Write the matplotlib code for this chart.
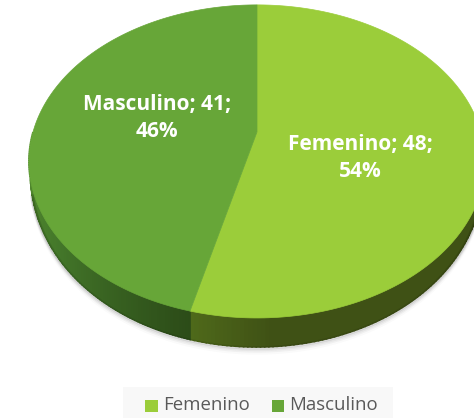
import matplotlib
matplotlib.use("Agg")
import matplotlib.pyplot as plt
import numpy as np
from matplotlib.patches import Polygon, Rectangle
from matplotlib.colors import LinearSegmentedColormap

categories = ["Femenino", "Masculino"]
values = [48, 41]
percents = ["54%", "46%"]
top_colors = ["#9BCD3A", "#67A638"]
wall_colors = [["#4F6A1A", "#3F5115", "#3F5115", "#3F5115", "#3F5115", "#3F5115", "#435716"],
               ["#5A9430", "#44782A", "#2C4C18"]]

W, H = 474, 418
cx, cy = 257, 132
A, B, k = 224, 151, 0.188  # perspective of the tilted disc
depth = 29

plt.rcParams["font.family"] = ["Open Sans", "DejaVu Sans"]
fig = plt.figure(figsize=(W / 100, H / 100), dpi=100)
ax = fig.add_axes([0, 0, 1, 1])
ax.set_xlim(0, W)
ax.set_ylim(H, 0)
ax.axis("off")

# slices run clockwise from 12 o'clock
total = sum(values)
edges = [0.0]
for v in values:
    edges.append(edges[-1] + v / total * 2 * np.pi)


def rim(t):
    d = 1 + k * np.cos(t)
    return cx + A * np.sin(t) / d, cy - B * np.cos(t) / d


def wall_h(t):
    return depth * np.sqrt(np.clip((-np.cos(t) - 0.3) / 0.7, 0, 1))


# soft shadow under the wall
ts = np.linspace(np.pi / 2 + 0.35, 3 * np.pi / 2 - 0.35, 200)
x, y = rim(ts)
for off, alpha in zip([6, 4, 2.5, 1], [0.02, 0.04, 0.06, 0.09]):
    ax.plot(x, y + wall_h(ts) + off, color="black", alpha=alpha, lw=2.5, solid_capstyle="round")

# side wall, only the front shows
for i in range(2):
    a, b = edges[i], edges[i + 1]
    a2, b2 = max(a, np.pi / 2), min(b, 3 * np.pi / 2)
    ts = np.linspace(a2, b2, 120)
    cm = LinearSegmentedColormap.from_list("s", wall_colors[i])
    for t0, t1 in zip(ts[:-1], ts[1:]):
        x0, y0 = rim(t0)
        x1, y1 = rim(t1)
        c = cm(1 - (t0 - a2) / (b2 - a2))
        ax.add_patch(Polygon([(x0, y0), (x1, y1), (x1, y1 + wall_h(t1)), (x0, y0 + wall_h(t0))],
                             closed=True, fc=c, ec=c, lw=1.2))

# top face
for i in range(2):
    ts = np.linspace(edges[i], edges[i + 1], 200)
    x, y = rim(ts)
    pts = np.vstack([[cx, cy], np.column_stack([x, y])])
    ax.add_patch(Polygon(pts, closed=True, fc=top_colors[i], ec=top_colors[i], lw=0.5))

# data labels
label_pos = [(360, 158), (157, 118)]
for i, (lx, ly) in enumerate(label_pos):
    ax.text(lx, ly, f"{categories[i]}; {values[i]};\n{percents[i]}", color="white",
            fontsize=15, fontweight="bold", ha="center", va="center", linespacing=1.42)

# legend band
ax.add_patch(Rectangle((123, 387), 270, 31, fc="#F8F8F8", ec="none"))
ax.add_patch(Rectangle((145, 400), 13, 12, fc=top_colors[0], ec="none"))
ax.text(163, 405, categories[0], fontsize=13.4, color="#595959", va="center")
ax.add_patch(Rectangle((272, 400), 12, 12, fc=top_colors[1], ec="none"))
ax.text(289, 405, categories[1], fontsize=13.4, color="#595959", va="center")

fig.savefig("out.png", dpi=100)
plt.close(fig)
